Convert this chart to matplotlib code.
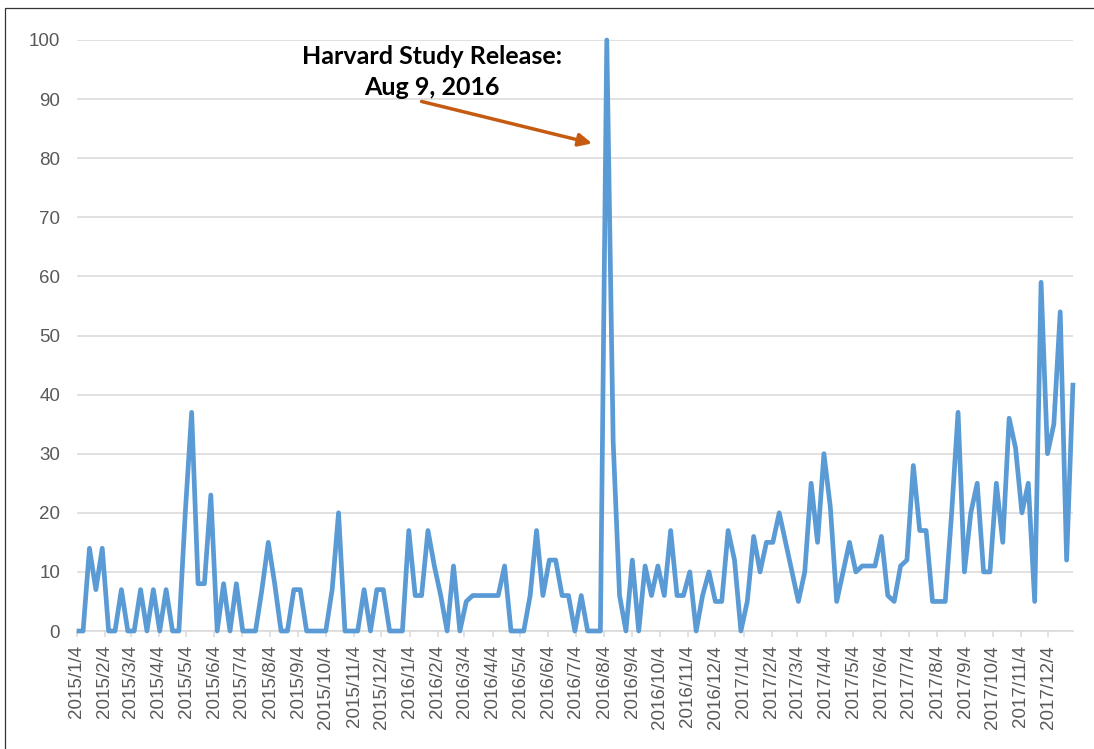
import matplotlib
matplotlib.use("Agg")
import matplotlib.pyplot as plt
from matplotlib.patches import Rectangle
import pandas as pd

# weekly search interest, weeks starting 2015/1/4
week_start = "2015-01-04"
interest = [
    0, 0, 14, 7, 14, 0, 0, 7, 0, 0,
    7, 0, 7, 0, 7, 0, 0, 20, 37, 8,
    8, 23, 0, 8, 0, 8, 0, 0, 0, 7,
    15, 8, 0, 0, 7, 7, 0, 0, 0, 0,
    7, 20, 0, 0, 0, 7, 0, 7, 7, 0,
    0, 0, 17, 6, 6, 17, 11, 6, 0, 11,
    0, 5, 6, 6, 6, 6, 6, 11, 0, 0,
    0, 6, 17, 6, 12, 12, 6, 6, 0, 6,
    0, 0, 0, 100, 32, 6, 0, 12, 0, 11,
    6, 11, 6, 17, 6, 6, 10, 0, 6, 10,
    5, 5, 17, 12, 0, 5, 16, 10, 15, 15,
    20, 15, 10, 5, 10, 25, 15, 30, 21, 5,
    10, 15, 10, 11, 11, 11, 16, 6, 5, 11,
    12, 28, 17, 17, 5, 5, 5, 20, 37, 10,
    20, 25, 10, 10, 25, 15, 36, 31, 20, 25,
    5, 59, 30, 35, 54, 12, 42,
]
weeks = pd.date_range(week_start, periods=len(interest), freq="7D")

# axis ticks on the 4th of every month
tick_dates = [pd.Timestamp(y, m, 4) for y in (2015, 2016, 2017) for m in range(1, 13)]
tick_labels = [f"{d.year}/{d.month}/{d.day}" for d in tick_dates]
y_ticks = list(range(0, 101, 10))

note_text = "Harvard Study Release:\nAug 9, 2016"
note_tip = pd.Timestamp("2016-07-22")

grey_text = "#595959"
grid_col = "#D9D9D9"

fig = plt.figure(figsize=(10.94, 7.49), dpi=100)
ax = fig.add_axes([76.7 / 1094, 118 / 749, (1073 - 76.7) / 1094, 591 / 749])

ax.plot(weeks, interest, color="#5B9BD5", lw=3.4, solid_joinstyle="round",
        solid_capstyle="butt", clip_on=False, zorder=3)

ax.set_xlim(weeks[0], weeks[-1])
ax.set_ylim(0, 100)
ax.set_yticks(y_ticks)
ax.set_xticks(tick_dates)
ax.set_xticklabels(tick_labels, rotation=90)

for side in ("top", "right", "left"):
    ax.spines[side].set_visible(False)
ax.spines["bottom"].set_color(grid_col)
ax.spines["bottom"].set_linewidth(1.1)
ax.grid(axis="y", color=grid_col, lw=1.1)
ax.set_axisbelow(True)

ax.tick_params(axis="y", length=0, pad=12, labelsize=13.5, labelcolor=grey_text)
ax.tick_params(axis="x", length=4, width=1.1, color=grid_col, pad=6,
               labelsize=13.5, labelcolor=grey_text)
for lbl in ax.get_xticklabels() + ax.get_yticklabels():
    lbl.set_fontfamily("Liberation Sans")

# study release note and arrow
ax.text(pd.Timestamp("2016-01-28"), 94.6, note_text, ha="center", va="center",
        fontsize=18, fontweight="bold", family="Lato", linespacing=1.45)
ax.annotate("", xy=(note_tip, 82.5), xytext=(pd.Timestamp("2016-01-17"), 89.6),
            arrowprops=dict(arrowstyle="-|>,head_length=0.8,head_width=0.38",
                            color="#C55A11", lw=2.5, shrinkA=0, shrinkB=0))

# chart frame
fig.patches.append(Rectangle((5 / 1094, -0.05), 1.2, 1.05 - 8 / 749,
                             transform=fig.transFigure, fill=False,
                             edgecolor="#333333", lw=0.9))

fig.savefig("out.png", dpi=100, facecolor="white")
